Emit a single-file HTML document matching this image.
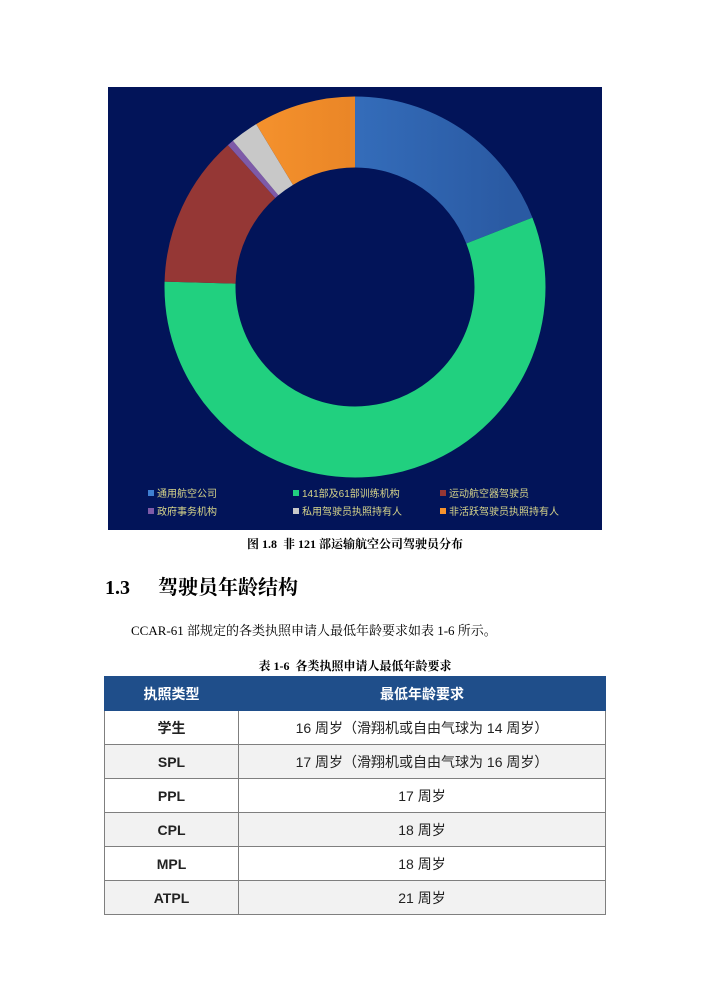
<!DOCTYPE html>
<html><head><meta charset="utf-8"><style>
body{margin:0;width:710px;height:1004px;background:#fff;position:relative;font-family:"Liberation Sans","Noto Sans CJK SC",sans-serif;}
.abs{position:absolute}
table{border-collapse:collapse;position:absolute;left:104px;top:676px;width:502px;font-size:14px}
td{border:1px solid #7f7f7f;text-align:center;height:33px;padding:0;color:#222}
td.k{font-weight:bold;width:133px}
tr.h td{background:#1f4e8a;color:#fff;font-weight:bold;height:33px;border-color:#1f4e8a}
tr.g td{background:#f2f2f2}
</style></head><body>
<svg class="abs" style="left:0;top:0" width="710" height="540">
<defs>
<linearGradient id="bl" x1="0" y1="0" x2="0" y2="1"><stop offset="0" stop-color="#3e7fd1"/><stop offset="1" stop-color="#2a5aa3"/></linearGradient>
<linearGradient id="or" x1="0" y1="0" x2="0" y2="1"><stop offset="0" stop-color="#fb9830"/><stop offset="1" stop-color="#d8731d"/></linearGradient>
</defs>
<rect x="108" y="87" width="494" height="443" fill="#021459"/>
<g transform="rotate(-90 355 287)" fill="none" stroke-width="71">
<circle cx="355" cy="287" r="155" stroke="url(#bl)" stroke-dasharray="185.6 1000" stroke-dashoffset="0"/>
<circle cx="355" cy="287" r="155" stroke="#21d07f" stroke-dasharray="548.9 1000" stroke-dashoffset="-185.6"/>
<circle cx="355" cy="287" r="155" stroke="#953735" stroke-dasharray="125.8 1000" stroke-dashoffset="-734.5"/>
<circle cx="355" cy="287" r="155" stroke="#7e5aa8" stroke-dasharray="5.4 1000" stroke-dashoffset="-860.3"/>
<circle cx="355" cy="287" r="155" stroke="#c8c8c8" stroke-dasharray="23.3 1000" stroke-dashoffset="-865.7"/>
<circle cx="355" cy="287" r="155" stroke="url(#or)" stroke-dasharray="84.9 1000" stroke-dashoffset="-889"/>
</g>
<g font-size="10" fill="#d6d48a" font-family="Liberation Sans,Noto Sans CJK SC,sans-serif">
<rect x="148" y="490" width="6" height="6" fill="#3e7fd1"/><text x="157" y="497">通用航空公司</text>
<rect x="293" y="490" width="6" height="6" fill="#21d07f"/><text x="302" y="497">141部及61部训练机构</text>
<rect x="440" y="490" width="6" height="6" fill="#953735"/><text x="449" y="497">运动航空器驾驶员</text>
<rect x="148" y="508" width="6" height="6" fill="#7e5aa8"/><text x="157" y="515">政府事务机构</text>
<rect x="293" y="508" width="6" height="6" fill="#c8c8c8"/><text x="302" y="515">私用驾驶员执照持有人</text>
<rect x="440" y="508" width="6" height="6" fill="#f7922d"/><text x="449" y="515">非活跃驾驶员执照持有人</text>
</g>
</svg>
<div class="abs" style="left:0;width:710px;top:535px;text-align:center;font-size:12px;font-weight:bold;font-family:'Liberation Serif','Noto Serif CJK SC',serif">图 1.8&nbsp; 非 121 部运输航空公司驾驶员分布</div>
<div class="abs" style="left:105px;top:571px;font-size:20px;font-weight:bold;font-family:'Liberation Serif','Noto Serif CJK SC',serif">1.3<span style="margin-left:28px">驾驶员年龄结构</span></div>
<div class="abs" style="left:131px;top:620px;font-size:13px;font-family:'Liberation Serif','Noto Serif CJK SC',serif">CCAR-61 部规定的各类执照申请人最低年龄要求如表 1-6 所示。</div>
<div class="abs" style="left:0;width:710px;top:657px;text-align:center;font-size:12px;font-weight:bold;font-family:'Liberation Serif','Noto Serif CJK SC',serif">表 1-6&nbsp; 各类执照申请人最低年龄要求</div>
<table>
<tr class="h"><td class="k">执照类型</td><td>最低年龄要求</td></tr>
<tr><td class="k">学生</td><td>16 周岁（滑翔机或自由气球为 14 周岁）</td></tr>
<tr class="g"><td class="k">SPL</td><td>17 周岁（滑翔机或自由气球为 16 周岁）</td></tr>
<tr><td class="k">PPL</td><td>17 周岁</td></tr>
<tr class="g"><td class="k">CPL</td><td>18 周岁</td></tr>
<tr><td class="k">MPL</td><td>18 周岁</td></tr>
<tr class="g"><td class="k">ATPL</td><td>21 周岁</td></tr>
</table>
</body></html>
